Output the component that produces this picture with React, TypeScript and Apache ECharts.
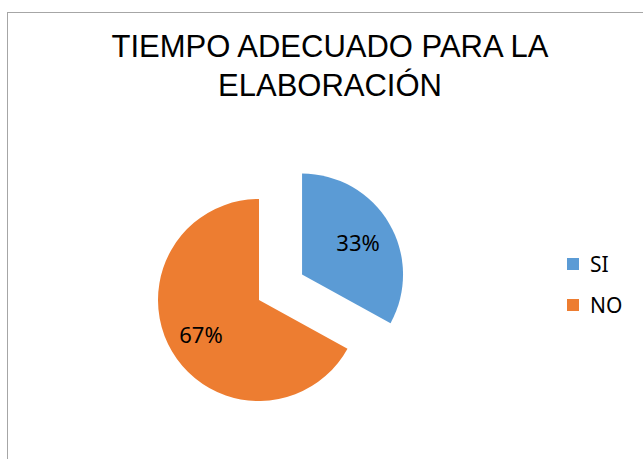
import React, { useEffect, useRef } from "react";
import * as echarts from "echarts";

const titleLines = ["TIEMPO ADECUADO PARA LA", "ELABORACIÓN"];
const categories = ["SI", "NO"];
const values = [33, 67];
const colors = ["#5B9BD5", "#ED7D31"];

export default function App() {
  const ref = useRef<HTMLDivElement>(null);
  useEffect(() => {
    if (!ref.current) return;
    const chart = echarts.init(ref.current, null, { renderer: "svg" });
    const labelShift = [
      { dx: 10, dy: -5 },
      { dx: -12, dy: 7 },
    ];
    chart.setOption({
      animation: false,
      backgroundColor: "#ffffff",
      title: {
        text: titleLines.join("\n"),
        left: 330,
        textAlign: "center",
        top: 27,
        padding: 0,
        textStyle: {
          fontFamily: "Liberation Sans, Arial, sans-serif",
          fontSize: 31,
          fontWeight: "normal",
          color: "#000000",
          lineHeight: 39,
        },
      },
      legend: {
        orient: "vertical",
        left: 567,
        top: 253,
        padding: 0,
        itemWidth: 12,
        itemHeight: 12,
        itemGap: 19,
        icon: "rect",
        data: categories,
        textStyle: {
          fontFamily: "Noto Sans, sans-serif",
          fontSize: 21,
          lineHeight: 22,
          color: "#000000",
          padding: [0, 0, 0, 6],
        },
      },
      graphic: [
        {
          type: "line",
          shape: { x1: 7.5, y1: 12, x2: 7.5, y2: 459 },
          style: { stroke: "#A6A6A6", lineWidth: 1 },
        },
        {
          type: "line",
          shape: { x1: 7, y1: 12.5, x2: 643, y2: 12.5 },
          style: { stroke: "#A6A6A6", lineWidth: 1 },
        },
      ],
      series: [
        {
          type: "pie",
          center: [259, 300],
          radius: 101,
          startAngle: 90,
          clockwise: true,
          selectedMode: "single",
          selectedOffset: 50,
          emphasis: { disabled: true },
          label: {
            show: true,
            position: "inside",
            fontFamily: "Noto Sans, sans-serif",
            fontSize: 22,
            color: "#000000",
            formatter: (p: any) => Math.round(p.percent) + "%",
          },
          labelLine: { show: false },
          labelLayout: (p: any) => labelShift[p.dataIndex],
          data: categories.map((c, i) => ({
            name: c,
            value: values[i],
            selected: i === 0,
            itemStyle: { color: colors[i] },
          })),
        },
      ],
    });
    return () => chart.dispose();
  }, []);
  return (
    <div
      ref={ref}
      style={{ position: "absolute", left: 0, top: 0, width: 643, height: 459 }}
    />
  );
}
